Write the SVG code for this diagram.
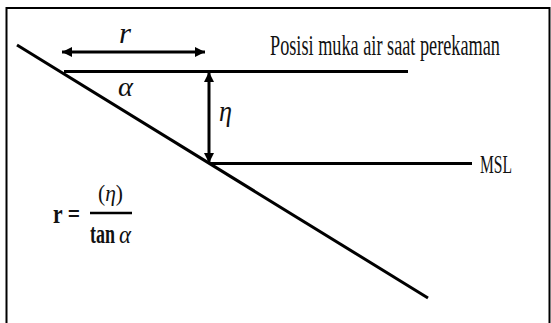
<svg xmlns="http://www.w3.org/2000/svg" width="551" height="323" viewBox="0 0 551 323">
<defs>
<marker id="ah" viewBox="0 0 10 10" refX="10" refY="5" markerWidth="10" markerHeight="10" markerUnits="userSpaceOnUse" orient="auto-start-reverse">
<path d="M0,0 L10,5 L0,10 Z" fill="#000"/>
</marker>
</defs>
<style>
.ln{stroke:#000;stroke-width:3;fill:none}
.ar{stroke:#000;stroke-width:3;fill:none;marker-start:url(#ah);marker-end:url(#ah)}
.t{font-family:"Liberation Serif","Times New Roman",serif;fill:#111}
.i{font-style:italic}
</style>
<rect width="551" height="323" fill="#fff"/>
<path d="M6.5,330 L6.5,8 L549.5,8 L549.5,330" stroke="#000" stroke-width="2" fill="none"/>
<g id="connectors">
<line class="ln" x1="17" y1="45" x2="428" y2="298"/>
<line class="ln" x1="64" y1="71.5" x2="408" y2="71.5"/>
<line class="ln" x1="210" y1="163.5" x2="472" y2="163.5"/>
<line class="ar" x1="62" y1="52" x2="205" y2="52"/>
<line class="ar" x1="209" y1="72" x2="209" y2="163"/>
</g>
<g id="labels">
<text class="t i" x="119" y="43" font-size="30" textLength="12" lengthAdjust="spacingAndGlyphs">r</text>
<text class="t i" x="118" y="96" font-size="27" textLength="15" lengthAdjust="spacingAndGlyphs">α</text>
<text class="t i" x="219" y="121" font-size="29" textLength="13" lengthAdjust="spacingAndGlyphs">η</text>
<text class="t" x="270" y="55" font-size="29" textLength="230" lengthAdjust="spacingAndGlyphs">Posisi muka air saat perekaman</text>
<text class="t" x="480" y="173" font-size="26" textLength="32" lengthAdjust="spacingAndGlyphs">MSL</text>
</g>
<g id="formula">
<text class="t" x="53" y="223" font-size="27" font-weight="bold" textLength="27" lengthAdjust="spacingAndGlyphs">r =</text>
<text class="t" x="98" y="201" font-size="24" textLength="25" lengthAdjust="spacingAndGlyphs">(<tspan class="i">η</tspan>)</text>
<line x1="90" y1="213" x2="132" y2="213" stroke="#000" stroke-width="2.5"/>
<text class="t" x="90" y="243" font-size="28" font-weight="bold" textLength="25" lengthAdjust="spacingAndGlyphs">tan</text>
<text class="t i" x="119" y="243" font-size="26" textLength="12" lengthAdjust="spacingAndGlyphs">α</text>
</g>
</svg>
